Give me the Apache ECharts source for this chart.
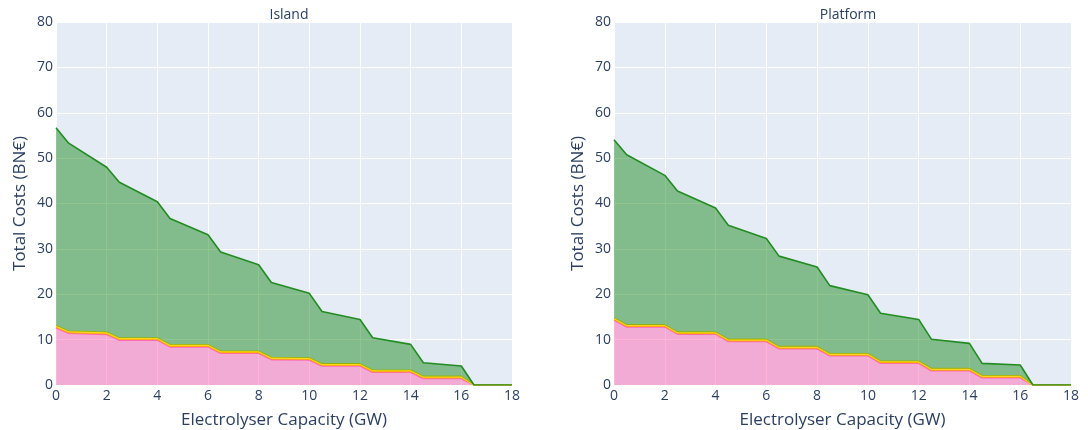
<!DOCTYPE html>
<html>
<head>
<meta charset="utf-8">
<script src="https://cdn.jsdelivr.net/npm/echarts@6/dist/echarts.min.js"></script>
<style>
  html, body { margin: 0; padding: 0; background: #fff; }
  #chart { width: 1088px; height: 430px; }
</style>
</head>
<body>
<div id="chart"></div>
<script>
// Electrolyser capacity steps (GW)
const capacity = [0, 0.5, 2, 2.5, 4, 4.5, 6, 6.5, 8, 8.5, 10, 10.5, 12, 12.5, 14, 14.5, 16, 16.5, 18];

// Island scenario cost layers (BN€), stacked bottom to top
const islandPink   = [12.6, 11.4, 11.15, 9.9, 9.9, 8.4, 8.4, 7.0, 7.0, 5.6, 5.5, 4.2, 4.2, 2.8, 2.8, 1.45, 1.45, 0, 0];
const islandOrange = [0.15, 0.15, 0.15, 0.15, 0.15, 0.15, 0.15, 0.15, 0.15, 0.15, 0.15, 0.15, 0.15, 0.15, 0.15, 0.15, 0.15, 0, 0];
const islandGold   = [0.3, 0.3, 0.3, 0.3, 0.3, 0.3, 0.3, 0.3, 0.3, 0.3, 0.3, 0.3, 0.3, 0.3, 0.3, 0.3, 0.3, 0, 0];
const islandGreen  = [43.65, 41.45, 36.4, 34.35, 30.05, 27.85, 24.25, 21.85, 19.05, 16.55, 14.25, 11.55, 9.8, 7.15, 5.7, 3.0, 2.3, 0, 0];

// Platform scenario cost layers (BN€), stacked bottom to top
const platformPink   = [14.3, 12.8, 12.8, 11.2, 11.2, 9.6, 9.6, 8.0, 8.0, 6.45, 6.45, 4.8, 4.8, 3.15, 3.15, 1.6, 1.6, 0, 0];
const platformOrange = [0.15, 0.15, 0.15, 0.15, 0.15, 0.15, 0.15, 0.15, 0.15, 0.15, 0.15, 0.15, 0.15, 0.15, 0.15, 0.15, 0.15, 0, 0];
const platformGold   = [0.3, 0.3, 0.3, 0.3, 0.3, 0.3, 0.3, 0.3, 0.3, 0.3, 0.3, 0.3, 0.3, 0.3, 0.3, 0.3, 0.3, 0, 0];
const platformGreen  = [39.3, 37.5, 32.95, 31.1, 27.35, 25.15, 22.25, 19.95, 17.55, 15.0, 13.0, 10.55, 9.2, 6.5, 5.57, 2.72, 2.35, 0, 0];

const panelTitles = ['Island', 'Platform'];
const xTitle = 'Electrolyser Capacity (GW)';
const yTitle = 'Total Costs (BN€)';

const textColor = '#2a3f5f';
const fontFamily = '"Open Sans", Verdana, Arial, sans-serif';

const layerStyles = [
  { line: '#ff69b4', fill: '#ff69b4', width: 1.6 },
  { line: '#ffa500', fill: '#ffa500', width: 1.0 },
  { line: '#ffd700', fill: '#ffd700', width: 1.6 },
  { line: '#228b22', fill: '#228b22', width: 1.6 }
];

// Rows are [cost, capacity]: the cost column comes first so that the
// stack accumulates costs (layers share the same capacity steps).
function rows(ys) {
  return capacity.map((x, i) => [ys[i], x]);
}

function layerSeries(layers, gridIndex) {
  return layers.map((ys, k) => ({
    type: 'line',
    xAxisIndex: gridIndex,
    yAxisIndex: gridIndex,
    stack: 'costs' + gridIndex,
    dimensions: ['cost', 'capacity'],
    encode: { x: 'capacity', y: 'cost' },
    data: rows(ys),
    symbol: 'none',
    lineStyle: { color: layerStyles[k].line, width: layerStyles[k].width },
    areaStyle: { color: layerStyles[k].fill, opacity: 0.5 },
    z: 2 + k,
    animation: false
  }));
}

function xAxisCfg(gridIndex) {
  return {
    type: 'value', gridIndex, min: 0, max: 18, interval: 2,
    name: xTitle, nameLocation: 'middle', nameGap: 27,
    nameTextStyle: { color: textColor, fontSize: 17, fontFamily },
    axisLine: { show: false }, axisTick: { show: false },
    axisLabel: { color: textColor, fontSize: 14, fontFamily, margin: 4 },
    splitLine: { show: true, lineStyle: { color: '#ffffff', width: 1 } }
  };
}

function yAxisCfg(gridIndex) {
  return {
    type: 'value', gridIndex, min: 0, max: 80, interval: 10,
    name: yTitle, nameLocation: 'middle', nameGap: 27,
    nameTextStyle: { color: textColor, fontSize: 17, fontFamily },
    axisLine: { show: false }, axisTick: { show: false },
    axisLabel: { color: textColor, fontSize: 14, fontFamily, margin: 3 },
    splitLine: { show: true, lineStyle: { color: '#ffffff', width: 1 } }
  };
}

const chart = echarts.init(document.getElementById('chart'), null, { renderer: 'canvas' });

const gridBase = { top: 22, bottom: 45, show: true, backgroundColor: '#E5ECF6', borderWidth: 0, outerBoundsMode: 'none', containLabel: false };

chart.setOption({
  backgroundColor: '#ffffff',
  animation: false,
  title: [
    { text: panelTitles[0], left: 284, top: 3, textAlign: 'center',
      textStyle: { color: textColor, fontSize: 14, fontWeight: 'normal', fontFamily } },
    { text: panelTitles[1], left: 843, top: 3, textAlign: 'center',
      textStyle: { color: textColor, fontSize: 14, fontWeight: 'normal', fontFamily } }
  ],
  grid: [
    Object.assign({ left: 56, right: 576 }, gridBase),
    Object.assign({ left: 614, right: 17 }, gridBase)
  ],
  xAxis: [xAxisCfg(0), xAxisCfg(1)],
  yAxis: [yAxisCfg(0), yAxisCfg(1)],
  series: [
    ...layerSeries([islandPink, islandOrange, islandGold, islandGreen], 0),
    ...layerSeries([platformPink, platformOrange, platformGold, platformGreen], 1)
  ]
});
</script>
</body>
</html>
